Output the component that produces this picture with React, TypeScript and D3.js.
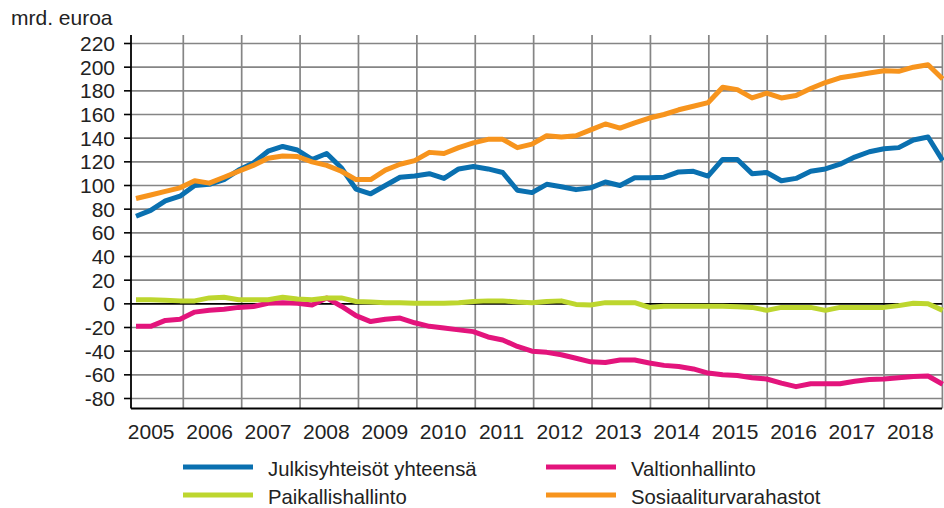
import React from "react";
import * as d3 from "d3";

const years = [2005, 2006, 2007, 2008, 2009, 2010, 2011, 2012, 2013, 2014, 2015, 2016, 2017, 2018];
const quarters: string[] = years.flatMap((y) => [1, 2, 3, 4].map((q) => `${y}Q${q}`));
const yTicks = [220, 200, 180, 160, 140, 120, 100, 80, 60, 40, 20, 0, -20, -40, -60, -80];

const julkisyhteisot = [
  74, 79, 87, 91,
  100, 101, 105, 113,
  119, 129, 133, 130,
  122, 127, 115, 97,
  93, 100, 107, 108,
  110, 106, 114, 116,
  114, 111, 96, 94,
  101, 99, 96.5, 98,
  103, 100, 106.5, 106.5,
  107, 111.5, 112, 108,
  122, 122, 110, 111,
  104, 106, 112, 114,
  118, 124, 128.5, 131,
  132, 138.5, 141, 121,
];
const valtionhallinto = [
  -19, -19, -14, -13,
  -7, -5.5, -4.5, -3,
  -2.3, 0.5, 1, 0.5,
  -1, 5, -2, -10,
  -15, -13, -12, -16,
  -19, -20.5, -22, -23.5,
  -28, -30.5, -36, -40,
  -41, -43, -46, -49,
  -49.5, -47.5, -47.5, -50,
  -52, -53, -55, -58.5,
  -60, -60.5, -62.5, -63.5,
  -67, -70, -67.5, -67.5,
  -67.5, -65.5, -64, -63.5,
  -62.5, -61.5, -61, -68,
];
const paikallishallinto = [
  3.5, 3.5, 3, 2.5,
  2.5, 5, 5.5, 3.5,
  3.5, 3.5, 5.5, 4,
  3.5, 5, 5, 2,
  1.5, 1, 1, 0.5,
  0.5, 0.5, 1, 2,
  2.5, 2.5, 1.5, 1,
  2, 2.5, -0.5, -1,
  1, 1, 1, -3,
  -2, -2, -2, -2,
  -2, -2.5, -3, -5.5,
  -3, -3, -3, -5.5,
  -3, -3, -3, -3,
  -1.5, 0.5, 0, -5.5,
];
const sosiaaliturvarahastot = [
  89, 92, 95, 98,
  104, 102, 107, 112,
  117, 123, 125, 124.5,
  120, 117, 112, 105,
  105, 113, 118, 121,
  128, 127, 132, 136,
  139, 139, 132, 135,
  142, 141, 142, 147,
  152, 148.5, 153, 157,
  160, 164, 167, 170,
  183, 181, 174, 178,
  174, 176, 182, 187,
  191, 193, 195, 197,
  196.5, 200, 202, 190,
];

const seriesNames = ["Julkisyhteisöt yhteensä", "Valtionhallinto", "Paikallishallinto", "Sosiaaliturvarahastot"];
const seriesValues = [julkisyhteisot, valtionhallinto, paikallishallinto, sosiaaliturvarahastot];
const seriesColors = ["#0a70b0", "#e3147c", "#bdd62e", "#f7941d"];

const W = 944;
const H = 508;
const FONT = "'Liberation Sans', Arial, sans-serif";

export default function App() {
  const plotLeft = 131;
  const plotRight = 942;
  const plotTop = 35;
  const plotBottom = 408.5;

  const y = d3.scaleLinear().domain([-80, 220]).range([398.5, 43.5]);
  const xData = d3.scaleLinear().domain([0, quarters.length - 1]).range([136, 942.7]);
  const xYear = d3.scaleLinear().domain([2005, 2019]).range([124.9, 942.4]);

  const line = d3
    .line<number>()
    .x((_, i) => xData(i))
    .y((d) => y(d));

  const gridYears = years.slice(1).concat([2019]);

  const legendRows = [
    { idx: 0, col: 0, row: 0 },
    { idx: 1, col: 1, row: 0 },
    { idx: 2, col: 0, row: 1 },
    { idx: 3, col: 1, row: 1 },
  ];
  const colX = [183, 546];
  const rowY = [467, 495];

  return (
    <svg
      width={W}
      height={H}
      style={{ position: "absolute", left: 0, top: 0, background: "#fff" }}
      fontFamily={FONT}
    >
      <rect x={0} y={0} width={W} height={H} fill="#fff" />
      <text x={11} y={25} fontSize={21} fill="#222">
        mrd. euroa
      </text>

      {yTicks
        .filter((t) => t !== 0)
        .map((t) => (
          <line key={"h" + t} x1={plotLeft} x2={plotRight} y1={y(t)} y2={y(t)} stroke="#858585" strokeWidth={1.7} />
        ))}
      {gridYears.map((yr) => (
        <line key={"v" + yr} x1={xYear(yr)} x2={xYear(yr)} y1={plotTop} y2={plotBottom} stroke="#858585" strokeWidth={1.7} />
      ))}

      <line x1={plotLeft} x2={plotRight} y1={y(0)} y2={y(0)} stroke="#000" strokeWidth={1.6} />

      <line x1={plotLeft} x2={plotLeft} y1={plotTop} y2={plotBottom} stroke="#000" strokeWidth={1.8} />
      <line x1={plotLeft} x2={plotRight} y1={plotBottom} y2={plotBottom} stroke="#000" strokeWidth={1.8} />

      {yTicks.map((t) => (
        <g key={"t" + t}>
          <line x1={124} x2={plotLeft} y1={y(t)} y2={y(t)} stroke="#000" strokeWidth={1.6} />
          <text x={115} y={y(t)} dy="0.36em" textAnchor="end" fontSize={21} fill="#222">
            {t}
          </text>
        </g>
      ))}

      {years.map((yr) => (
        <text key={"x" + yr} x={xYear(yr + 0.45)} y={439} textAnchor="middle" fontSize={21} fill="#222">
          {yr}
        </text>
      ))}

      {seriesValues.map((vals, i) => (
        <path
          key={"s" + i}
          d={line(vals) || ""}
          fill="none"
          stroke={seriesColors[i]}
          strokeWidth={5}
          strokeLinejoin="round"
          strokeLinecap="butt"
        />
      ))}

      {legendRows.map(({ idx, col, row }) => (
        <g key={"l" + idx}>
          <line x1={colX[col]} x2={colX[col] + 70} y1={rowY[row]} y2={rowY[row]} stroke={seriesColors[idx]} strokeWidth={5} />
          <text x={colX[col] + 85} y={rowY[row] + 2} dy="0.36em" fontSize={20.3} fill="#222">
            {seriesNames[idx]}
          </text>
        </g>
      ))}
    </svg>
  );
}
